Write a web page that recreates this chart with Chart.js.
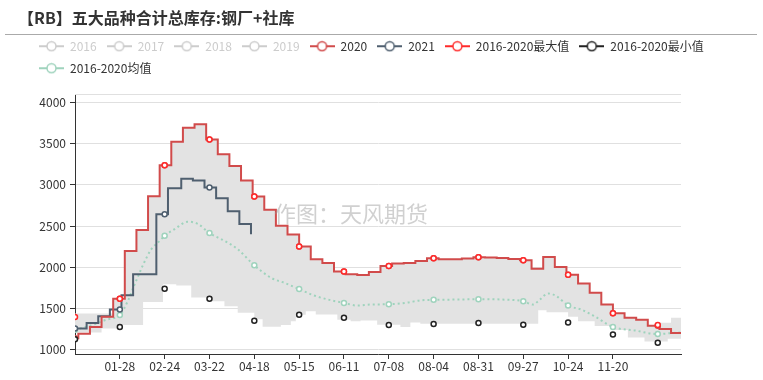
<!DOCTYPE html>
<html><head><meta charset="utf-8">
<script src="https://cdn.jsdelivr.net/npm/chart.js@4.4.1/dist/chart.umd.min.js"></script>
<style>html,body{margin:0;padding:0;background:#fff;}</style>
</head><body>
<canvas id="c" width="763" height="380"></canvas>
<script>
// ---------------- data (day index on a 2020 calendar: 0 = 01-01, 365 = 12-31) ----------------
const titleText = '【RB】五大品种合计总库存:钢厂+社库';
const legendNames = ['2016','2017','2018','2019','2020','2021','2016-2020最大值','2016-2020最小值','2016-2020均值'];
const tickDays   = [27,54,81,108,135,162,189,216,243,270,297,324];
const tickLabels = ['01-28','02-24','03-22','04-18','05-15','06-11','07-08','08-04','08-31','09-27','10-24','11-20'];
const markerDays = [0,27,54,81,108,135,162,189,216,243,270,297,324,351];
const yTicks = [1000,1500,2000,2500,3000,3500,4000];

const s2020 = [[0,1140],[2,1195],[9,1277],[16,1400],[23,1618],[27,1618],[30,2199],[37,2451],[44,2862],[51,3236],[54,3236],
  [58,3520],[65,3691],[72,3732],[79,3549],[81,3549],[86,3370],[93,3228],[100,3053],[107,2858],[108,2858],[114,2699],
  [121,2504],[128,2398],[135,2252],[142,2098],[149,2053],[156,1951],[162,1951],[163,1915],[170,1907],[177,1943],
  [184,2016],[189,2016],[191,2045],[198,2053],[205,2077],[212,2110],[216,2110],[219,2098],[226,2098],[233,2106],
  [240,2122],[243,2122],[247,2120],[254,2112],[261,2100],[268,2085],[270,2085],[275,1984],[282,2126],[289,2004],
  [296,1911],[297,1911],[303,1805],[310,1691],[317,1549],[324,1443],[331,1390],[338,1366],[345,1293],[351,1293],
  [352,1252],[359,1203],[365,1203]];

const s2021 = [[0,1258],[7,1325],[14,1406],[21,1488],[27,1488],[28,1662],[35,1915],[49,2642],[54,2642],[56,2959],
  [64,3073],[71,3053],[78,2967],[81,2967],[85,2837],[92,2679],[99,2524],[106,2402]];

const sMean = [[0,1244],[11,1305],[19,1366],[27,1423],[32,1600],[35,1750],[38,1890],[41,2030],[46,2220],[51,2321],
  [54,2382],[60,2463],[68,2553],[74,2526],[81,2415],[90,2321],[98,2220],[108,2024],[118,1874],[126,1813],[135,1736],
  [144,1659],[154,1602],[162,1569],[170,1537],[178,1549],[189,1553],[199,1569],[209,1602],[216,1606],[231,1610],
  [243,1614],[257,1610],[270,1589],[276,1549],[280,1610],[285,1683],[290,1650],[297,1537],[305,1488],[313,1406],
  [324,1277],[337,1236],[351,1191],[359,1203],[365,1211]];

const sMaxPts = [[0,1398],[27,1618],[54,3236],[81,3549],[108,2858],[135,2252],[162,1951],[189,2016],[216,2110],
  [243,2122],[270,2085],[297,1911],[324,1443],[351,1300]];
const sMinPts = [[0,1130],[27,1277],[54,1740],[81,1618],[108,1354],[135,1427],[162,1390],[189,1301],[216,1313],
  [243,1325],[270,1305],[297,1333],[324,1187],[351,1087]];

const bandHigh = [[0,1440],[23,1618],[30,2199],[37,2451],[44,2862],[51,3236],[58,3520],[65,3691],[72,3732],[79,3549],
  [86,3370],[93,3228],[100,3053],[107,2858],[114,2699],[121,2504],[128,2398],[135,2252],[142,2098],[149,2053],
  [156,1951],[163,1915],[170,1907],[177,1943],[184,2016],[191,2045],[198,2053],[205,2077],[212,2110],[219,2098],
  [226,2098],[233,2106],[240,2122],[247,2120],[254,2112],[261,2100],[268,2085],[275,1984],[282,2126],[289,2004],
  [296,1911],[303,1805],[310,1691],[317,1549],[324,1443],[331,1390],[338,1366],[345,1293],[352,1330],[359,1390],[365,1390]];
const bandLow = [[0,1210],[16,1260],[26,1300],[41,1580],[53,1795],[61,1780],[70,1635],[80,1590],[90,1530],[98,1450],
  [108,1370],[113,1280],[124,1300],[130,1346],[133,1427],[139,1467],[145,1430],[158,1366],[166,1346],[172,1355],
  [182,1305],[196,1277],[202,1333],[208,1318],[279,1480],[284,1455],[297,1400],[303,1346],[313,1290],[323,1240],
  [333,1150],[343,1100],[357,1135],[365,1140]];

// ---------------- helpers ----------------
const pts = arr => arr.map(p => ({x: p[0], y: p[1]}));
const markerRadius = c => (c.raw && markerDays.includes(c.raw.x)) ? 2.5 : 0;

const C2020 = '#d14b4b', C2021 = '#4f5f6f', CMAX = '#ff2a2a', CMIN = '#222222', CMEAN = '#9fd3bd', CGREY = '#cccccc';
const legendIconColors = [CGREY, CGREY, CGREY, CGREY, C2020, C2021, CMAX, CMIN, CMEAN];
const legendTextColors = [CGREY, CGREY, CGREY, CGREY, '#333', '#333', '#333', '#333', '#333'];

function makeIcon(color) {
  const c = document.createElement('canvas');
  c.width = 25; c.height = 12;
  const g = c.getContext('2d');
  g.strokeStyle = color; g.lineWidth = 2;
  g.beginPath(); g.moveTo(0, 6); g.lineTo(25, 6); g.stroke();
  g.beginPath(); g.arc(12.5, 6, 4.5, 0, Math.PI * 2);
  g.fillStyle = '#fff'; g.fill(); g.lineWidth = 1.5; g.stroke();
  return c;
}
const icons = legendIconColors.map(makeIcon);

const FONT = '"Noto Sans CJK SC", "Noto Sans", sans-serif';
Chart.defaults.font.family = FONT;
Chart.defaults.color = '#333';

const extras = {
  id: 'extras',
  afterLayout(chart) { if (chart.titleBlock) chart.titleBlock.left = 18; },
  beforeDatasetsDraw(chart) {
    const {ctx, chartArea} = chart;
    ctx.save();
    ctx.strokeStyle = '#e0e0e0'; ctx.lineWidth = 1;
    const y = Math.round(chartArea.top) + 0.5;
    ctx.beginPath(); ctx.moveTo(chartArea.left, y); ctx.lineTo(chartArea.right, y); ctx.stroke();
    ctx.restore();
  },
  afterDatasetsDraw(chart) {
    const {ctx} = chart;
    ctx.save();
    ctx.font = '22px ' + FONT;
    ctx.fillStyle = 'rgba(150,150,150,0.45)';
    ctx.textBaseline = 'middle';
    ctx.textAlign = 'left';
    ctx.fillText('作图：天风期货', 274, 214);
    ctx.restore();
  },
  afterDraw(chart) {
    const {ctx} = chart;
    ctx.save();
    ctx.strokeStyle = '#aaaaaa'; ctx.lineWidth = 1;
    ctx.beginPath(); ctx.moveTo(5, 34.5); ctx.lineTo(757, 34.5); ctx.stroke();
    ctx.restore();
  }
};

new Chart(document.getElementById('c'), {
  type: 'line',
  data: {
    datasets: [
      {label: 'bandLow', data: pts(bandLow), stepped: true, borderWidth: 0, borderColor: 'rgba(0,0,0,0)',
       pointRadius: 0, fill: false, order: 10},
      {label: 'bandHigh', data: pts(bandHigh), stepped: true, borderWidth: 0, borderColor: 'rgba(0,0,0,0)',
       pointRadius: 0, fill: '-1', backgroundColor: '#e3e3e3', order: 9},
      {label: legendNames[8], data: pts(sMean), borderColor: CMEAN, borderWidth: 2, borderDash: [2, 3],
       cubicInterpolationMode: 'monotone', pointRadius: markerRadius, pointBackgroundColor: '#fff',
       pointBorderColor: CMEAN, pointBorderWidth: 1.5, fill: false, order: 6},
      {label: legendNames[5], data: pts(s2021), stepped: true, borderColor: C2021, borderWidth: 2,
       pointRadius: markerRadius, pointBackgroundColor: '#fff', pointBorderColor: C2021, pointBorderWidth: 1.5,
       fill: false, order: 5},
      {label: legendNames[4], data: pts(s2020), stepped: true, borderColor: C2020, borderWidth: 2,
       pointRadius: markerRadius, pointBackgroundColor: '#fff', pointBorderColor: C2020, pointBorderWidth: 1.5,
       fill: false, order: 4},
      {label: legendNames[6], data: pts(sMaxPts), showLine: false, pointRadius: 2.5, pointBackgroundColor: '#fff',
       pointBorderColor: CMAX, pointBorderWidth: 1.5, borderColor: CMAX, order: 3},
      {label: legendNames[7], data: pts(sMinPts), showLine: false, pointRadius: 2.5, pointBackgroundColor: '#fff',
       pointBorderColor: CMIN, pointBorderWidth: 1.5, borderColor: CMIN, order: 2}
    ]
  },
  options: {
    responsive: false,
    animation: false,
    events: [],
    layout: {padding: {left: 29, right: 10, top: 0, bottom: 0}},
    scales: {
      x: {
        type: 'linear', min: 0, max: 365,
        afterBuildTicks: s => { s.ticks = tickDays.map(v => ({value: v})); },
        afterFit: s => { s.height = 26; },
        ticks: {autoSkip: false, maxRotation: 0, padding: 0, color: '#333', font: {size: 12},
                callback: v => tickLabels[tickDays.indexOf(v)]},
        grid: {display: true, drawOnChartArea: false, drawTicks: true, tickLength: 5, tickColor: '#333'},
        border: {display: true, color: '#333', width: 1}
      },
      y: {
        type: 'linear', min: 950, max: 4100,
        afterBuildTicks: s => { s.ticks = yTicks.map(v => ({value: v})); },
        afterFit: s => { s.width = 46; },
        ticks: {padding: 4, color: '#333', font: {size: 12}, callback: v => String(v)},
        grid: {color: '#e0e0e0', drawTicks: true, tickLength: 5, tickColor: '#333'},
        border: {display: true, color: '#333', width: 1}
      },
      yR: {
        type: 'linear', position: 'right', display: true, min: 0, max: 1,
        ticks: {display: false}, grid: {display: false}, border: {display: false},
        afterFit: s => { s.width = 72; }
      }
    },
    plugins: {
      tooltip: {enabled: false},
      title: {display: true, text: titleText, align: 'start', color: '#333',
              font: {size: 16, weight: 'bold'}, padding: {top: 8, bottom: 3}},
      subtitle: {display: true, text: '', weight: 500, font: {size: 8, lineHeight: 1}, padding: {top: 0, bottom: 1.8}},
      legend: {
        display: true, position: 'top', align: 'start', onClick: () => {},
        labels: {
          usePointStyle: true, pointStyleWidth: 25, padding: 10, font: {size: 12},
          generateLabels: () => legendNames.map((name, i) => ({
            text: name, fontColor: legendTextColors[i], pointStyle: icons[i],
            fillStyle: 'rgba(0,0,0,0)', strokeStyle: 'rgba(0,0,0,0)', lineWidth: 0, hidden: false
          }))
        }
      }
    }
  },
  plugins: [extras]
});
</script>
</body></html>
